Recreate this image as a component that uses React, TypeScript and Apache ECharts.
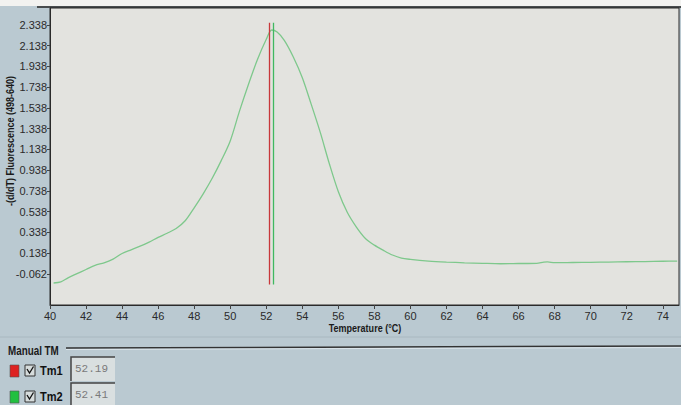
import React, { useEffect, useRef } from "react";
import * as echarts from "echarts";

const temps = [40.2, 40.6, 41.0, 41.5, 42.0, 42.5, 43.0, 43.5, 44.0, 44.5, 45.0, 45.5, 46.0, 46.5, 47.0, 47.5, 48.0, 48.5, 49.0, 49.5, 50.0, 50.5, 51.0, 51.5, 52.0, 52.3, 52.6, 53.0, 53.5, 54.0, 54.5, 55.0, 55.5, 56.0, 56.5, 57.0, 57.5, 58.0, 58.5, 59.0, 59.5, 60.0, 61.0, 62.0, 63.0, 64.0, 65.0, 66.0, 67.0, 67.4, 67.6, 68.0, 69.0, 70.0, 71.0, 72.0, 73.0, 74.0, 74.8];
const fluor = [-0.15, -0.14, -0.1, -0.06, -0.02, 0.02, 0.045, 0.08, 0.135, 0.17, 0.205, 0.245, 0.29, 0.33, 0.375, 0.45, 0.575, 0.71, 0.86, 1.03, 1.22, 1.5, 1.76, 2.0, 2.2, 2.29, 2.27, 2.19, 2.03, 1.83, 1.57, 1.3, 1.0, 0.73, 0.53, 0.39, 0.28, 0.215, 0.165, 0.12, 0.09, 0.078, 0.062, 0.052, 0.045, 0.04, 0.036, 0.038, 0.04, 0.052, 0.054, 0.046, 0.048, 0.05, 0.052, 0.055, 0.057, 0.06, 0.062];
const xTicks = [40, 42, 44, 46, 48, 50, 52, 54, 56, 58, 60, 62, 64, 66, 68, 70, 72, 74];
const yTicks = [-0.062, 0.138, 0.338, 0.538, 0.738, 0.938, 1.138, 1.338, 1.538, 1.738, 1.938, 2.138, 2.338];
const tmLabels = ["Tm1", "Tm2"];
const tmValues = [52.19, 52.41];
const tmColors = ["#c8383a", "#3fb860"];
const tmSwatch = ["#dd2222", "#22c040"];
const tmLineSpan = [-0.165, 2.36];

const SANS = "'Liberation Sans', Arial, sans-serif";
const MONO = "'Liberation Mono', 'DejaVu Sans Mono', monospace";

export default function App() {
  const ref = useRef<HTMLDivElement>(null);
  useEffect(() => {
    if (!ref.current) return;
    const chart = echarts.init(ref.current, undefined, { renderer: "svg" });
    const rows = tmLabels.map((lab, i) => {
      const y0 = 357 + i * 26;
      return [
        { type: "rect", shape: { x: 10, y: y0 + 8, width: 9, height: 12 }, style: { fill: tmSwatch[i], stroke: "#555", lineWidth: 0.6 } },
        { type: "rect", shape: { x: 25, y: y0 + 8, width: 10, height: 11 }, style: { fill: "#d6dcdc", stroke: "#333", lineWidth: 1 } },
        { type: "polyline", shape: { points: [[27, y0 + 12], [29.5, y0 + 16], [33.5, y0 + 9.5]] }, style: { stroke: "#111", lineWidth: 1.3, fill: null } },
        { type: "text", x: 40, y: y0 + 14, scaleX: 0.85, style: { text: lab, font: `bold 13px ${SANS}`, fill: "#111", verticalAlign: "middle" } },
        { type: "rect", shape: { x: 71, y: y0, width: 44, height: 24 }, style: { fill: "#d9dfe0", stroke: null } },
        { type: "polyline", shape: { points: [[71, y0 + 24], [71, y0], [115, y0]] }, style: { stroke: "#444", lineWidth: 1.5, fill: null } },
        { type: "text", x: 75, y: y0 + 12, style: { text: tmValues[i].toFixed(2), font: `11px ${MONO}`, fill: "#7a7a7a", verticalAlign: "middle" } },
      ];
    }).flat();

    chart.setOption({
      animation: false,
      backgroundColor: "#bac9d1",
      grid: { left: 50, top: 8, right: 2, bottom: 100, show: true, backgroundColor: "#e3e3df", borderColor: "#2a2a2a", borderWidth: 1 },
      xAxis: {
        type: "value", min: 40, max: 74.9,
        axisLine: { show: true, onZero: false, lineStyle: { color: "#2a2a2a", width: 1 } },
        axisTick: { show: true, customValues: xTicks, length: 4, lineStyle: { color: "#444" } },
        axisLabel: { customValues: xTicks, color: "#2a2a2a", fontFamily: SANS, fontSize: 11, margin: 5 },
        splitLine: { show: false },
      },
      yAxis: {
        type: "value", min: -0.362, max: 2.502,
        axisLine: { show: true, onZero: false, lineStyle: { color: "#2a2a2a", width: 1 } },
        axisTick: { show: true, customValues: yTicks, length: 3, lineStyle: { color: "#444" } },
        axisLabel: { customValues: yTicks, color: "#2a2a2a", fontFamily: SANS, fontSize: 11, margin: 3, formatter: (v: number) => v.toFixed(3) },
        splitLine: { show: false },
      },
      series: [
        {
          type: "line", data: temps.map((t, i) => [t, fluor[i]]), smooth: 0.3, showSymbol: false,
          lineStyle: { color: "#7ec88c", width: 1.3 },
          markLine: {
            silent: true, symbol: "none", label: { show: false },
            data: tmValues.map((v, i) => [
              { coord: [v, tmLineSpan[0]], lineStyle: { color: tmColors[i], width: 1.3, type: "solid" } },
              { coord: [v, tmLineSpan[1]] },
            ]),
          },
        },
      ],
      graphic: [
        { type: "rect", shape: { x: 0, y: 0, width: 681, height: 6 }, style: { fill: "#f2f2f0" } },
        { type: "line", shape: { x1: 37, y1: 7, x2: 681, y2: 7 }, style: { stroke: "#222", lineWidth: 1.5 } },
        { type: "text", x: 10, y: 141, rotation: Math.PI / 2, scaleX: 0.82, style: { text: "-(d/dT) Fluorescence (498-640)", font: `bold 11px ${SANS}`, fill: "#1a1a1a", align: "center", verticalAlign: "middle" } },
        { type: "text", x: 365, y: 328, scaleX: 0.82, style: { text: "Temperature (°C)", font: `bold 11px ${SANS}`, fill: "#1a1a1a", align: "center", verticalAlign: "middle" } },
        { type: "line", shape: { x1: 0, y1: 337, x2: 681, y2: 337 }, style: { stroke: "#a9b8c0", lineWidth: 1 } },
        { type: "text", x: 8, y: 351, scaleX: 0.82, style: { text: "Manual TM", font: `bold 12px ${SANS}`, fill: "#1a1a1a", verticalAlign: "middle" } },
        { type: "line", shape: { x1: 66, y1: 348, x2: 681, y2: 346 }, style: { stroke: "#333", lineWidth: 1.5 } },
        { type: "line", shape: { x1: 66, y1: 349.5, x2: 681, y2: 347.5 }, style: { stroke: "#e6eef2", lineWidth: 0.8 } },
        ...rows,
      ],
    });
    return () => chart.dispose();
  }, []);
  return <div ref={ref} style={{ position: "fixed", left: 0, top: 0, width: 681, height: 405 }} />;
}
